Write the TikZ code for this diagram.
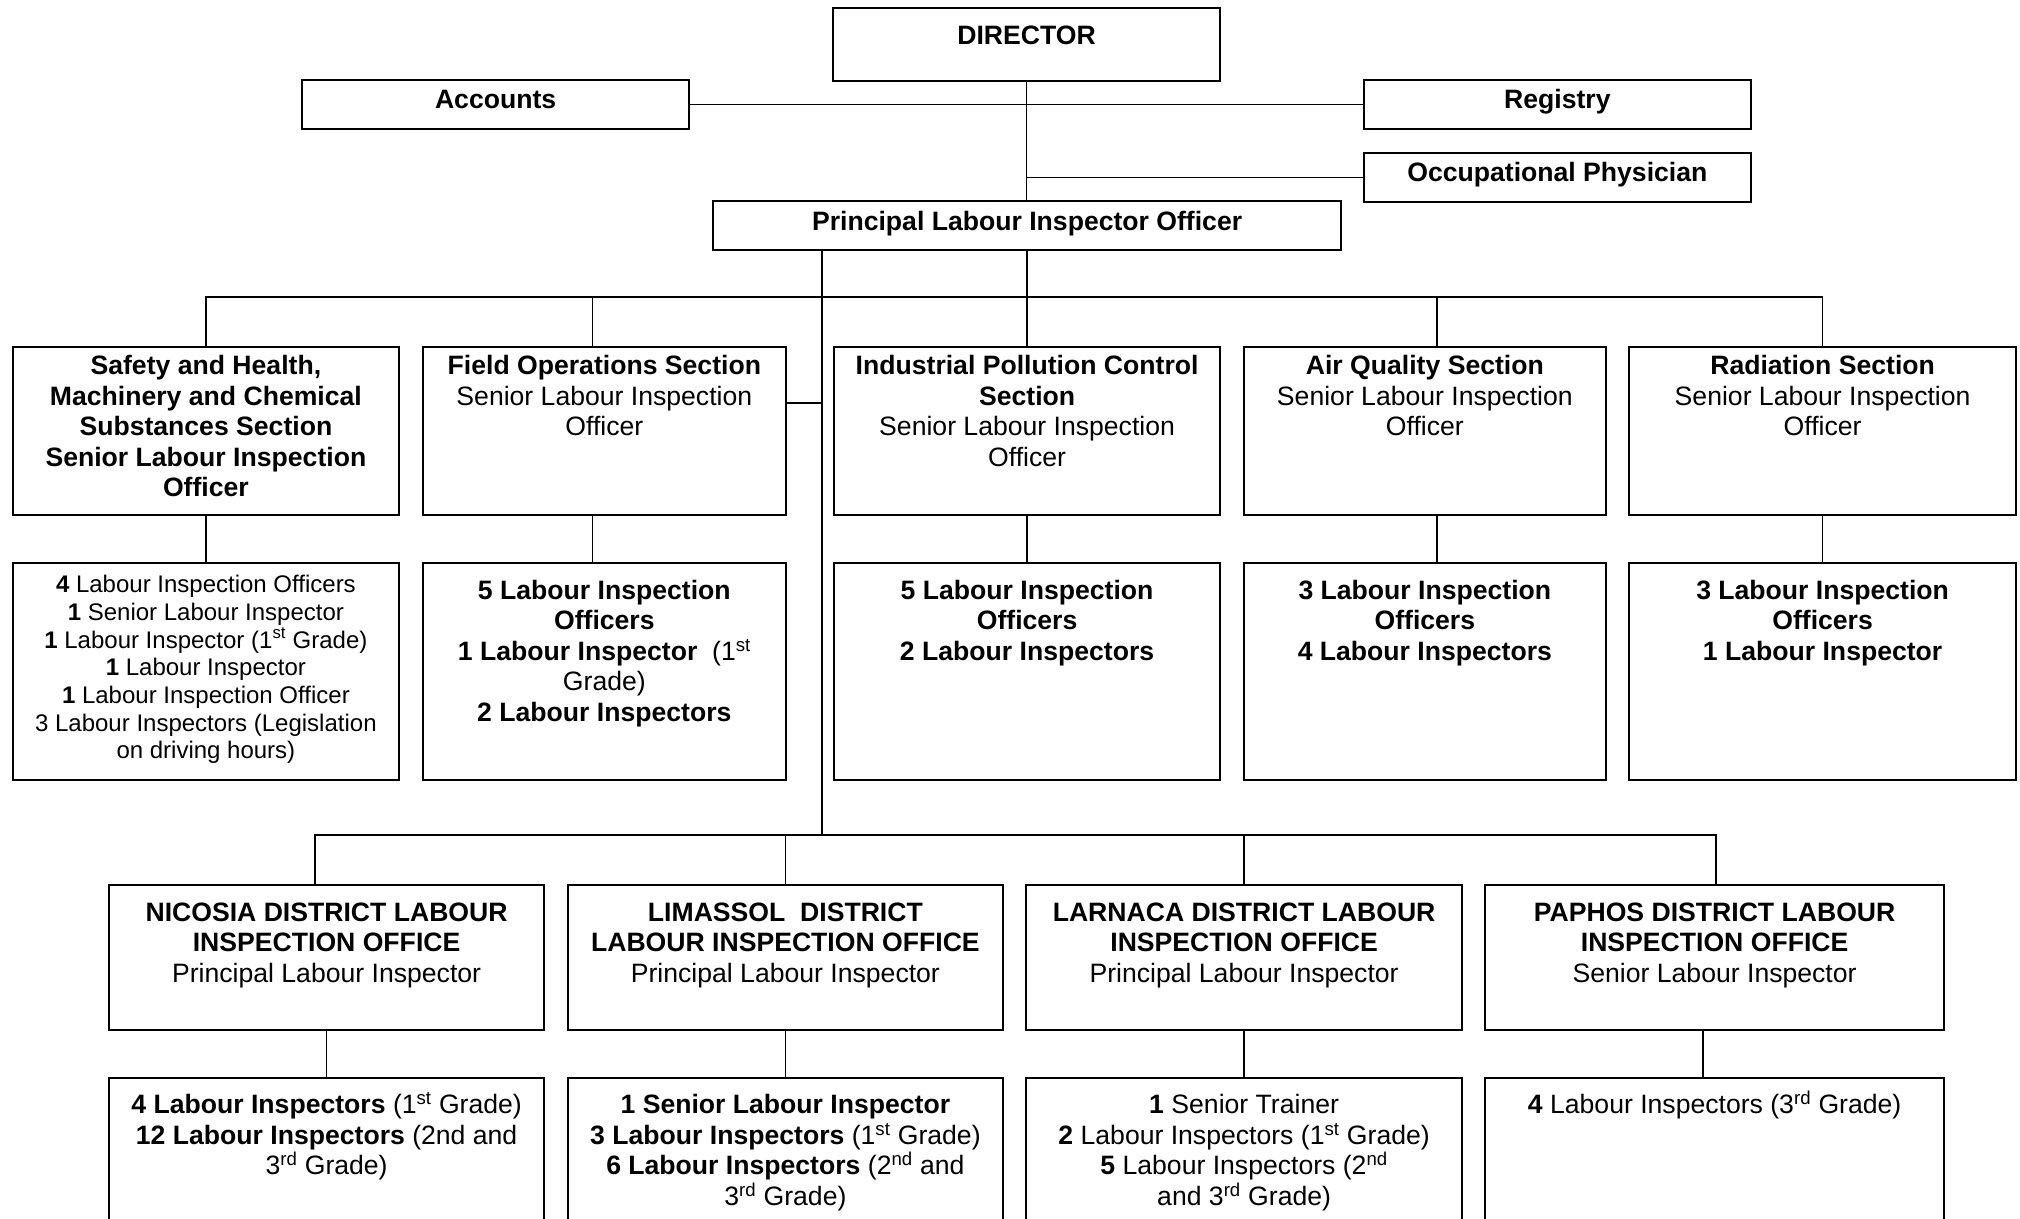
\documentclass[tikz,border=0pt]{standalone}
\usepackage{fontspec}
\setmainfont{Liberation Sans}
\usetikzlibrary{calc}
\newcommand{\bt}[4]{\parbox[c][#2pt][t]{#1pt}{\centering\rule{0pt}{#3pt}#4\par}}
\tikzset{
  box/.style={draw, line width=2.2pt, fill=white, inner sep=0pt, anchor=north west, font=\fontsize{26.6}{30.5}\selectfont},
  smallbox/.style={box, font=\fontsize{24}{27.7}\selectfont},
  conn/.style={line width=1.4pt}
}
\begin{document}
\begin{tikzpicture}[x=1pt,y=-1pt]
\path[use as bounding box] (0,0) rectangle (2020,1218);
\clip (0,0) rectangle (2020,1218);
\coordinate (sbus) at (0,297);
\coordinate (dbus) at (0,835);
\coordinate (tr) at (822,0);

% top level
\node[box] (dir) at (832,7) {\bt{387}{73}{36}{\textbf{DIRECTOR}}};
\node[box] (acc) at (301,79) {\bt{387}{49}{28}{\textbf{Accounts}}};
\node[box] (reg) at (1363,79) {\bt{386.5}{49}{28}{\textbf{Registry}}};
\node[box] (occ) at (1363,152) {\bt{386.5}{48.5}{28}{\textbf{Occupational Physician}}};
\node[box] (plio) at (712,200) {\bt{628}{48.5}{29}{\textbf{Principal Labour Inspector Officer}}};

% sections
\node[box] (s1) at (11.6,345.5) {\bt{386.4}{168.5}{28}{\textbf{Safety and Health,\\ Machinery and Chemical\\ Substances Section\\ Senior Labour Inspection\\ Officer}}};
\node[box] (s2) at (422,345.5) {\bt{362.5}{168.5}{28}{\textbf{Field Operations Section}\\ Senior Labour Inspection\\ Officer}};
\node[box] (s3) at (833,345.5) {\bt{386}{168.5}{28}{\textbf{Industrial Pollution Control}\\ \textbf{Section}\\ Senior Labour Inspection\\ Officer}};
\node[box] (s4) at (1242.5,345.5) {\bt{362.5}{168.5}{28}{\textbf{Air Quality Section}\\ Senior Labour Inspection\\ Officer}};
\node[box] (s5) at (1628,345.5) {\bt{387}{168.5}{28}{\textbf{Radiation Section}\\ Senior Labour Inspection\\ Officer}};

% section staff
\node[smallbox] (c1) at (11.6,562) {\bt{386.4}{217}{29.5}{\textbf{4} Labour Inspection Officers\\ \textbf{1} Senior Labour Inspector\\ \textbf{1} Labour Inspector (1\textsuperscript{st} Grade)\\ \textbf{1} Labour Inspector\\ \textbf{1} Labour Inspection Officer\\ 3 Labour Inspectors (Legislation\\ on driving hours)}};
\node[box] (c2) at (422,562) {\bt{362.5}{217}{36}{\textbf{5 Labour Inspection}\\ \textbf{Officers}\\ \textbf{1 Labour Inspector}\ \ (1\textsuperscript{st}\\ Grade)\\ \textbf{2 Labour Inspectors}}};
\node[box] (c3) at (833,562) {\bt{386}{217}{36}{\textbf{5 Labour Inspection\\ Officers\\ 2 Labour Inspectors}}};
\node[box] (c4) at (1242.5,562) {\bt{362.5}{217}{36}{\textbf{3 Labour Inspection\\ Officers\\ 4 Labour Inspectors}}};
\node[box] (c5) at (1628,562) {\bt{387}{217}{36}{\textbf{3 Labour Inspection\\ Officers\\ 1 Labour Inspector}}};

% district offices
\node[box] (d1) at (108,884) {\bt{435}{145}{36}{\textbf{NICOSIA DISTRICT LABOUR}\\ \textbf{INSPECTION OFFICE}\\ Principal Labour Inspector}};
\node[box] (d2) at (567,884) {\bt{434.6}{145}{36}{\textbf{LIMASSOL\ \ DISTRICT}\\ \textbf{LABOUR INSPECTION OFFICE}\\ Principal Labour Inspector}};
\node[box] (d3) at (1025,884) {\bt{436}{145}{36}{\textbf{LARNACA DISTRICT LABOUR}\\ \textbf{INSPECTION OFFICE}\\ Principal Labour Inspector}};
\node[box] (d4) at (1484,884) {\bt{459}{145}{36}{\textbf{PAPHOS DISTRICT LABOUR}\\ \textbf{INSPECTION OFFICE}\\ Senior Labour Inspector}};

% district staff
\node[box] (e1) at (108,1076.7) {\bt{435}{150}{36}{\textbf{4 Labour Inspectors} (1\textsuperscript{st} Grade)\\ \textbf{12 Labour Inspectors} (2nd and\\ 3\textsuperscript{rd} Grade)}};
\node[box] (e2) at (567,1076.7) {\bt{434.6}{150}{36}{\textbf{1 Senior Labour Inspector}\\ \textbf{3 Labour Inspectors} (1\textsuperscript{st} Grade)\\ \textbf{6 Labour Inspectors} (2\textsuperscript{nd} and\\ 3\textsuperscript{rd} Grade)}};
\node[box] (e3) at (1025,1076.7) {\bt{436}{150}{36}{\textbf{1} Senior Trainer\\ \textbf{2} Labour Inspectors (1\textsuperscript{st} Grade)\\ \textbf{5} Labour Inspectors (2\textsuperscript{nd}\\ and 3\textsuperscript{rd} Grade)}};
\node[box] (e4) at (1484,1076.7) {\bt{459}{150}{36}{\textbf{4} Labour Inspectors (3\textsuperscript{rd} Grade)}};

% connectors
\draw[conn] (dir.south) -- (dir.south |- plio.north);
\draw[conn] (acc.east) -- (reg.west);
\draw[conn] (occ.west) -- (occ.west -| dir.south);
\draw[conn] (plio.south -| tr) -- (dbus -| tr);
\draw[conn] (plio.south) -- (s3.north);
\draw[conn] (s1.north) -- (s1.north |- sbus) -- (s5.north |- sbus) -- (s5.north);
\draw[conn] ([xshift=-12pt]s2.north) -- ([xshift=-12pt]s2.north |- sbus);
\draw[conn] ([xshift=12pt]s4.north) -- ([xshift=12pt]s4.north |- sbus);
\draw[conn] ([yshift=28pt]s2.east) -- ([yshift=28pt]s2.east -| tr);
\draw[conn] (s1.south) -- (c1.north);
\draw[conn] ([xshift=-12pt]s2.south) -- ([xshift=-12pt]c2.north);
\draw[conn] (s3.south) -- (c3.north);
\draw[conn] ([xshift=12pt]s4.south) -- ([xshift=12pt]c4.north);
\draw[conn] (s5.south) -- (c5.north);
\draw[conn] ([xshift=-11.5pt]d1.north) -- ([xshift=-11.5pt]d1.north |- dbus) -- ([xshift=1.2pt]d4.north |- dbus) -- ([xshift=1.2pt]d4.north);
\draw[conn] (d2.north) -- (d2.north |- dbus);
\draw[conn] (d3.north) -- (d3.north |- dbus);
\draw[conn] (d1.south) -- (e1.north);
\draw[conn] (d2.south) -- (e2.north);
\draw[conn] (d3.south) -- (e3.north);
\draw[conn] ([xshift=-11.5pt]d4.south) -- ([xshift=-11.5pt]e4.north);
\end{tikzpicture}
\end{document}
